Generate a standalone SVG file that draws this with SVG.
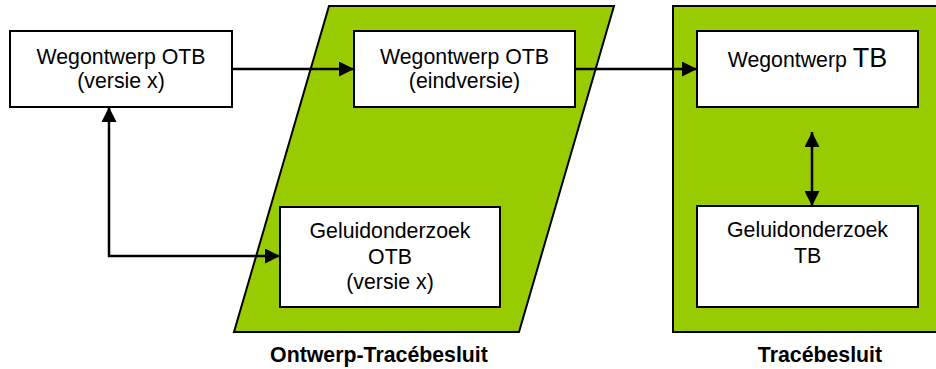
<svg xmlns="http://www.w3.org/2000/svg" width="936" height="369" viewBox="0 0 936 369">
<style>
.bg{fill:#ffffff}
.zone{fill:#99cc00;stroke:#000;stroke-width:2}
.box{fill:#fff;stroke:#000;stroke-width:2}
.t{font-family:"Liberation Sans",Arial,sans-serif;font-size:21.3px;fill:#000;text-anchor:middle}
.big{font-size:27px}
.lbl{font-family:"Liberation Sans",Arial,sans-serif;font-size:21.3px;font-weight:bold;fill:#000;text-anchor:middle}
.c{fill:none;stroke:#000;stroke-width:2.5}
</style>
<defs>
<marker id="ah" viewBox="0 0 10 10" refX="10" refY="5" markerWidth="15" markerHeight="15" markerUnits="userSpaceOnUse" orient="auto-start-reverse">
<path d="M0,0 L10,5 L0,10 z" fill="#000"/>
</marker>
</defs>
<rect class="bg" x="0" y="0" width="936" height="369"/>
<g id="zone-otb">
<polygon class="zone" points="329,6 614,6 519,332 234,332"/>
<text class="lbl" x="379" y="362">Ontwerp-Tracébesluit</text>
</g>
<g id="zone-tb">
<rect class="zone" x="673" y="6" width="280" height="326"/>
<text class="lbl" x="820" y="362">Tracébesluit</text>
</g>
<g id="connectors">
<path class="c" d="M232,69 L354,69" marker-end="url(#ah)"/>
<path class="c" d="M575,69 L697,69" marker-end="url(#ah)"/>
<path class="c" d="M109,107 L109,256 L280,256" marker-start="url(#ah)" marker-end="url(#ah)"/>
<path class="c" d="M812,132 L812,206" marker-start="url(#ah)" marker-end="url(#ah)"/>
</g>
<g id="wegontwerp-otb-x">
<rect class="box" x="10" y="31" width="222" height="76"/>
<text class="t" x="121" y="64">Wegontwerp OTB</text>
<text class="t" x="121" y="88">(versie x)</text>
</g>
<g id="wegontwerp-otb-eind">
<rect class="box" x="354" y="31" width="221" height="76"/>
<text class="t" x="464.5" y="64">Wegontwerp OTB</text>
<text class="t" x="464.5" y="88">(eindversie)</text>
</g>
<g id="geluid-otb">
<rect class="box" x="280" y="207" width="220" height="100"/>
<text class="t" x="390" y="238">Geluidonderzoek</text>
<text class="t" x="390" y="264">OTB</text>
<text class="t" x="390" y="289">(versie x)</text>
</g>
<g id="wegontwerp-tb">
<rect class="box" x="697" y="31" width="221" height="76"/>
<text class="t" x="807.5" y="67">Wegontwerp <tspan class="big">TB</tspan></text>
</g>
<g id="geluid-tb">
<rect class="box" x="697" y="206" width="221" height="101"/>
<text class="t" x="807.5" y="237">Geluidonderzoek</text>
<text class="t" x="807.5" y="263">TB</text>
</g>
</svg>
